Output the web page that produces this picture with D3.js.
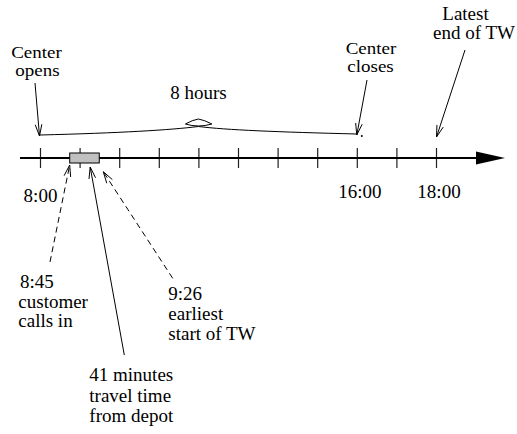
<!DOCTYPE html>
<html>
<head>
<meta charset="utf-8">
<script src="https://cdn.jsdelivr.net/npm/d3@7"></script>
<style>
  html, body { margin: 0; padding: 0; background: #fff; }
  text { font-family: "Liberation Serif", "Times New Roman", serif; font-size: 19px; fill: #000; }
</style>
</head>
<body>
<svg id="chart" width="517" height="434"></svg>
<script>
// hours on the time line
const tickHours = [8, 9, 10, 11, 12, 13, 14, 15, 16, 17, 18];
const labelHours = [8, 16, 18];
const labelTexts = ["8:00", "16:00", "18:00"];

// events of the day
const centerOpens = 8;
const centerCloses = 16;
const latestEnd = 18;
const callTime = 8 + 45 / 60;       // 8:45
const travelMinutes = 41;
const earliestStart = callTime + travelMinutes / 60;  // 9:26

const openLines = ["Center", "opens"];
const closeLines = ["Center", "closes"];
const latestLines = ["Latest", "end of TW"];
const callLines = ["8:45", "customer", "calls in"];
const travelLines = ["41 minutes", "travel time", "from depot"];
const earliestLines = ["9:26", "earliest", "start of TW"];
const spanText = "8 hours";

const svg = d3.select("#chart");
const x = d3.scaleLinear().domain([8, 18]).range([40, 436]);
const axisY = 158;

// ticks through the axis
const axis = d3.axisBottom(x).tickValues(tickHours).tickSize(20).tickFormat("");
const gAxis = svg.append("g").attr("transform", `translate(0,${axisY - 10})`).call(axis);
gAxis.select(".domain").remove();
gAxis.selectAll(".tick line").attr("stroke", "#222").attr("stroke-width", 1.2);

// main line and filled arrow head
svg.append("line")
    .attr("x1", 20).attr("x2", 478)
    .attr("y1", axisY).attr("y2", axisY)
    .attr("stroke", "#000").attr("stroke-width", 2);
svg.append("path")
    .attr("d", `M476,${axisY - 6.5} L505,${axisY} L476,${axisY + 6.5} Z`)
    .attr("fill", "#000");

// travel box
svg.append("rect")
    .attr("x", x(callTime)).attr("y", axisY - 5)
    .attr("width", x(earliestStart) - x(callTime) + 2.5).attr("height", 10)
    .attr("fill", "#c0c0c0").attr("stroke", "#000").attr("stroke-width", 1);

// tick labels
svg.selectAll(".hlabel").data(labelHours).join("text")
    .attr("class", "hlabel")
    .attr("text-anchor", "middle")
    .attr("x", d => x(d) + (d === 8 ? 0.5 : 3))
    .attr("y", d => d === 8 ? 201.7 : 197.7)
    .text((d, i) => labelTexts[i]);

// open arrow: line from (x1,y1) to tip (x2,y2)
function arrow(x1, y1, x2, y2, dashed) {
    const g = svg.append("g").attr("stroke", "#000").attr("fill", "none").attr("stroke-width", 1);
    g.append("line")
        .attr("x1", x1).attr("y1", y1).attr("x2", x2).attr("y2", y2)
        .attr("stroke-dasharray", dashed ? "6,4" : null);
    const a = Math.atan2(y1 - y2, x1 - x2);
    const len = 12, spread = 0.28;
    [-spread, spread].forEach(s => {
        g.append("line")
            .attr("x1", x2).attr("y1", y2)
            .attr("x2", x2 + len * Math.cos(a + s))
            .attr("y2", y2 + len * Math.sin(a + s));
    });
}

// lines of text; size < 19 gets stretched sideways so the width stays the same
function label(lines, xs, ys, anchor, size) {
    size = size || 19;
    const sx = 19 / size;
    svg.append("g").selectAll("text").data(lines).join("text")
        .attr("text-anchor", anchor)
        .style("font-size", size + "px")
        .attr("transform", (d, i) => `translate(${xs[i]},${ys[i]}) scale(${sx},1)`)
        .text(d => d);
}

// 8 hours brace
const xo = x(centerOpens), xc = x(centerCloses), xm = (xo + xc) / 2;
svg.append("path")
    .attr("d", `M${xo},135 C${xo + 80},133 ${xm - 28},130 ${xm},126.5 C${xm + 28},130 ${xc - 80},132 ${xc},134`)
    .attr("fill", "none").attr("stroke", "#000").attr("stroke-width", 1);
svg.append("path")
    .attr("d", `M${xm - 13},124 Q${xm - 6},120 ${xm},119 Q${xm + 6},120 ${xm + 13.5},124 Q${xm},128 ${xm - 13},124 Z`)
    .attr("fill", "#fff").attr("stroke", "#000").attr("stroke-width", 1);
svg.append("circle").attr("cx", xc + 5).attr("cy", 136).attr("r", 1).attr("fill", "#000");
label([spanText], [xm], [99], "middle");

// top annotations
arrow(35, 83, xo - 0.5, 136, false);
label(openLines, [36.5, 37.5], [57.5, 75.5], "middle", 16.5);

arrow(367, 80, xc, 135, false);
label(closeLines, [371, 370.5], [53.5, 71.5], "middle", 16.5);

arrow(465, 50, x(latestEnd) + 0.5, 137, false);
label(latestLines, [465.5, 474], [20, 39], "middle");

// bottom annotations
arrow(50, 262, x(callTime), 165, true);
label(callLines, [20, 18.3, 18.3], [288.3, 307.5, 326.7], "start");

arrow(124.3, 355, x(callTime) + 20.5, 167, false);
label(travelLines, [89.3, 89.3, 89.3], [381, 401.7, 422.3], "start");

arrow(172.7, 278.3, x(earliestStart) + 6.5, 171.7, true);
label(earliestLines, [168.3, 168.3, 168.3], [300, 320, 340], "start");
</script>
</body>
</html>
